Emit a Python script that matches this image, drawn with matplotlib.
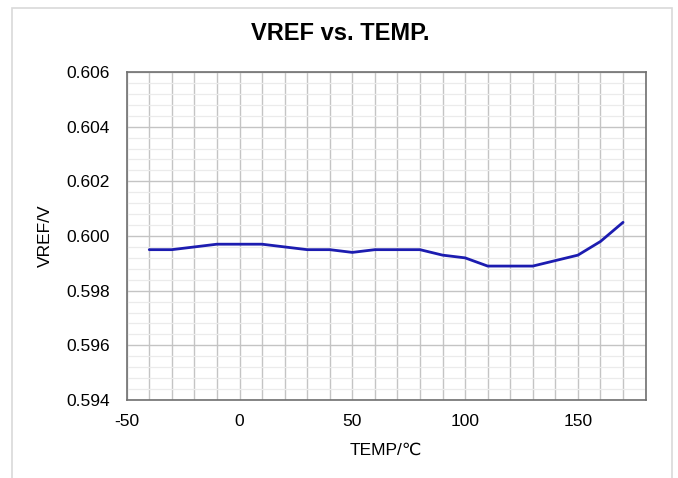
import matplotlib
matplotlib.use("Agg")
import matplotlib.pyplot as plt
from matplotlib.patches import Rectangle
from matplotlib.ticker import MultipleLocator, FormatStrFormatter

# data
temp = [-40, -30, -20, -10, 0, 10, 20, 30, 40, 50, 60, 70, 80,
        90, 100, 110, 120, 130, 140, 150, 160, 170]
vref = [0.5995, 0.5995, 0.5996, 0.5997, 0.5997, 0.5997, 0.5996, 0.5995,
        0.5995, 0.5994, 0.5995, 0.5995, 0.5995, 0.5993, 0.5992, 0.5989,
        0.5989, 0.5989, 0.5991, 0.5993, 0.5998, 0.6005]

plt.rcParams['font.family'] = ['Liberation Sans', 'DejaVu Sans']
plt.rcParams['axes.unicode_minus'] = False

fig = plt.figure(figsize=(6.78, 4.78), dpi=100)
ax = fig.add_axes([126.7/678, 1 - 400/478, (645.6-126.7)/678, (400-72)/478])

# outer chart frame
fig.patches.append(Rectangle((12/678, -0.05), 660/678, 1.05 - 8/478,
                             transform=fig.transFigure, fill=False,
                             edgecolor='#d9d9d9', linewidth=1.2))

ax.plot(temp, vref, color='#1c1cb0', linewidth=2.0, solid_joinstyle='round',
        solid_capstyle='round', zorder=3)

ax.set_xlim(-50, 180)
ax.set_ylim(0.594, 0.606)
ax.xaxis.set_major_locator(MultipleLocator(50))
ax.xaxis.set_minor_locator(MultipleLocator(10))
ax.yaxis.set_major_locator(MultipleLocator(0.002))
ax.yaxis.set_minor_locator(MultipleLocator(0.0004))
ax.yaxis.set_major_formatter(FormatStrFormatter('%.3f'))

ax.grid(which='minor', axis='x', color='#c4c4c4', linewidth=1.0)
ax.grid(which='major', axis='x', color='#c4c4c4', linewidth=1.0)
ax.grid(which='major', axis='y', color='#c4c4c4', linewidth=1.0)
ax.grid(which='minor', axis='y', color='#ebebeb', linewidth=0.9)
ax.set_axisbelow(True)

ax.tick_params(which='both', length=0, labelsize=12.5, colors='black')
ax.tick_params(axis='x', pad=10)
ax.tick_params(axis='y', pad=12)
for s in ax.spines.values():
    s.set_color('#707070')
    s.set_linewidth(1.2)

fig.text(340/678, 1 - 34/478, 'VREF vs. TEMP.', fontsize=17,
         fontweight='bold', ha='center', va='center')
ax.set_xlabel('TEMP/℃', fontsize=12.5, labelpad=10)
ax.set_ylabel('VREF/V', fontsize=12.5, labelpad=10)

fig.savefig('out.png', dpi=100)
